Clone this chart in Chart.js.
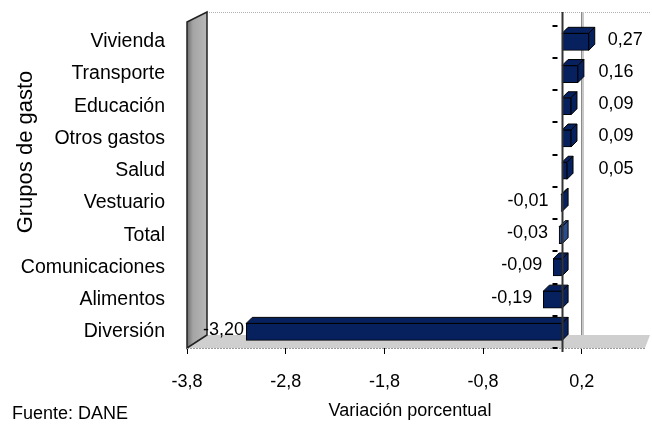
<!DOCTYPE html>
<html><head><meta charset="utf-8">
<script src="https://cdn.jsdelivr.net/npm/chart.js@4.4.1/dist/chart.umd.min.js"></script>
<style>html,body{margin:0;padding:0;background:#fff}#wrap{width:652px;height:426px}</style>
</head><body><div id="wrap"><canvas id="c" width="652" height="426"></canvas></div>
<script>
const categories = ['Vivienda','Transporte','Educación','Otros gastos','Salud','Vestuario','Total','Comunicaciones','Alimentos','Diversión'];
const values = [0.27, 0.16, 0.09, 0.09, 0.05, -0.01, -0.03, -0.09, -0.19, -3.20];
const xTicks = [-3.8, -2.8, -1.8, -0.8, 0.2];
const xMin = -3.8, xMax = 0.84;
const xTitle = 'Variación porcentual';
const yTitle = 'Grupos de gasto';
const sourceNote = 'Fuente: DANE';

const NAVY = '#07215f', TOTALBLUE = '#2b4d8c';
const barColors = categories.map(c => c === 'Total' ? TOTALBLUE : NAVY);
const FONT = '"Liberation Sans", Arial, sans-serif';
const fmt = v => v.toFixed(2).replace('.', ',');
const D = 6;

const deco = {
  id: 'deco',
  beforeDatasetsDraw(chart) {
    const {ctx, chartArea: a, scales: {x, y}} = chart;
    ctx.save();
    const backTop = 12, floorTop = a.bottom - 13;
    ctx.strokeStyle = '#b0b0b0'; ctx.lineWidth = 1; ctx.setLineDash([1, 1]);
    ctx.beginPath(); ctx.moveTo(a.left + 20, backTop + 0.5); ctx.lineTo(a.right + 5, backTop + 0.5); ctx.stroke();
    ctx.setLineDash([]);
    const gx = Math.round(x.getPixelForValue(xTicks[xTicks.length - 1])) + 0.5;
    ctx.strokeStyle = '#c8c8c8'; ctx.lineWidth = 3;
    ctx.beginPath(); ctx.moveTo(gx, backTop); ctx.lineTo(gx, floorTop); ctx.stroke();
    ctx.strokeStyle = '#8a8a8a'; ctx.lineWidth = 1;
    ctx.beginPath(); ctx.moveTo(gx - 1, backTop); ctx.lineTo(gx - 1, floorTop); ctx.stroke();
    ctx.fillStyle = '#cfcfcf';
    ctx.beginPath();
    ctx.moveTo(a.left, a.bottom); ctx.lineTo(a.left + 20, floorTop);
    ctx.lineTo(a.right + 5, floorTop); ctx.lineTo(a.right, a.bottom); ctx.closePath(); ctx.fill();
    const g = ctx.createLinearGradient(a.left, 0, a.left + 20, 0);
    g.addColorStop(0, '#6e6e6e'); g.addColorStop(0.3, '#a5a5a5'); g.addColorStop(1, '#b8b8b8');
    ctx.fillStyle = g;
    ctx.beginPath();
    ctx.moveTo(a.left, backTop + 10); ctx.lineTo(a.left + 20, backTop);
    ctx.lineTo(a.left + 20, floorTop); ctx.lineTo(a.left, a.bottom); ctx.closePath(); ctx.fill();
    ctx.strokeStyle = '#222'; ctx.lineWidth = 1.5; ctx.stroke();
    ctx.strokeStyle = '#9a9a9a'; ctx.lineWidth = 1; ctx.setLineDash([2, 1]);
    ctx.beginPath(); ctx.moveTo(a.left, a.bottom + 0.5); ctx.lineTo(a.right, a.bottom + 0.5); ctx.stroke();
    ctx.setLineDash([]);
    const meta = chart.getDatasetMeta(0);
    meta.data.forEach((bar, i) => {
      const p = bar.getProps(['x', 'y', 'base', 'height'], true);
      const l = Math.min(p.x, p.base), r = Math.max(p.x, p.base);
      const t = p.y - p.height / 2, b = p.y + p.height / 2;
      ctx.fillStyle = barColors[i]; ctx.strokeStyle = '#000'; ctx.lineWidth = 1;
      ctx.beginPath(); ctx.moveTo(l, t); ctx.lineTo(l + D, t - D); ctx.lineTo(r + D, t - D); ctx.lineTo(r, t); ctx.closePath(); ctx.fill(); ctx.stroke();
      ctx.beginPath(); ctx.moveTo(r, t); ctx.lineTo(r + D, t - D); ctx.lineTo(r + D, b - D); ctx.lineTo(r, b); ctx.closePath(); ctx.fill(); ctx.stroke();
    });
    ctx.restore();
  },
  afterDatasetsDraw(chart) {
    const {ctx, chartArea: a, scales: {x, y}} = chart;
    ctx.save();
    const zx = Math.round(x.getPixelForValue(0)) + 0.5;
    ctx.strokeStyle = '#333'; ctx.lineWidth = 2;
    ctx.beginPath(); ctx.moveTo(zx, 12); ctx.lineTo(zx, a.bottom + 4); ctx.stroke();
    ctx.strokeStyle = '#000'; ctx.lineWidth = 2;
    for (let i = 0; i <= categories.length; i++) {
      const ty = Math.round(y.getPixelForValue(i - 0.5));
      ctx.beginPath(); ctx.moveTo(zx - 10, ty); ctx.lineTo(zx - 5, ty); ctx.stroke();
    }
    ctx.fillStyle = '#000'; ctx.font = '18px ' + FONT; ctx.textBaseline = 'middle';
    values.forEach((v, i) => {
      const px = x.getPixelForValue(v), cy = y.getPixelForValue(i) - 2;
      const s = fmt(v);
      if (v >= 0) {
        ctx.textAlign = 'left';
        ctx.fillText(s, Math.max(px + 19, zx + 36), cy);
      } else {
        ctx.textAlign = 'right';
        const w = ctx.measureText(s).width;
        ctx.fillText(s, Math.max(Math.min(px - 11, zx - 14), a.left + 16 + w), cy);
      }
    });
    ctx.restore();
  },
  afterDraw(chart) {
    const {ctx} = chart;
    ctx.save();
    ctx.fillStyle = '#000';
    ctx.font = '18px ' + FONT; ctx.textAlign = 'center'; ctx.textBaseline = 'middle';
    ctx.fillText(xTitle, 410, 411);
    ctx.font = '22px ' + FONT;
    ctx.translate(26, 152); ctx.rotate(-Math.PI / 2);
    ctx.fillText(yTitle, 0, 0);
    ctx.restore();
    ctx.save();
    ctx.fillStyle = '#000'; ctx.font = '18px ' + FONT; ctx.textAlign = 'left'; ctx.textBaseline = 'middle';
    ctx.fillText(sourceNote, 12, 414);
    ctx.restore();
  }
};

new Chart(document.getElementById('c'), {
  type: 'bar',
  data: {
    labels: categories,
    datasets: [{
      data: values,
      backgroundColor: barColors,
      borderColor: '#000',
      borderWidth: 1,
      barThickness: 17,
      borderSkipped: false
    }]
  },
  options: {
    indexAxis: 'y',
    responsive: false,
    animation: false,
    layout: { padding: { top: 18, right: 7, left: 0, bottom: 0 } },
    plugins: { legend: { display: false }, tooltip: { enabled: false } },
    scales: {
      x: {
        min: xMin, max: xMax,
        afterBuildTicks: s => { s.ticks = xTicks.map(v => ({ value: v })); },
        afterFit: s => { s.height = 78; },
        grid: { display: true, drawOnChartArea: false, drawTicks: true, tickLength: 6, color: '#000' },
        border: { display: false },
        ticks: { color: '#000', font: { size: 18, family: FONT }, padding: 17, maxRotation: 0,
                 callback: v => Number(v).toFixed(1).replace('.', ',') }
      },
      y: {
        afterFit: s => { s.width = 187; },
        grid: { display: false },
        border: { display: false },
        ticks: { color: '#000', font: { size: 19.5, family: FONT }, padding: 14 }
      }
    }
  },
  plugins: [deco]
});
</script>
</body></html>
